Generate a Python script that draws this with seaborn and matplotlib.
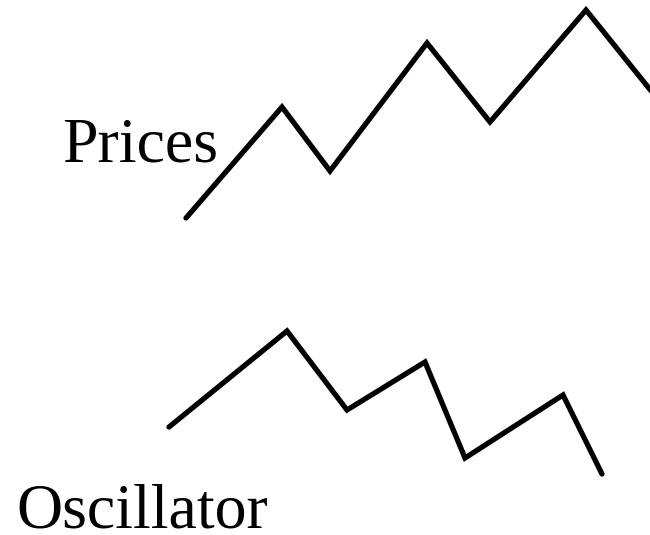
import matplotlib
matplotlib.use("Agg")
import matplotlib.pyplot as plt
import seaborn as sns
import pandas as pd

sns.set_theme(style="white")
plt.rcParams['font.family'] = ['Liberation Serif', 'DejaVu Serif']

W, H = 650, 535

# Prices zigzag (x, height from bottom)
price_x = [186, 282, 330, 427, 490, 586, 652]
price_y = [317, 428, 364, 492, 413, 525, 443]

# Oscillator zigzag
osc_x = [169, 287, 347, 425, 465, 563, 602]
osc_y = [108, 204, 125, 173, 77, 140, 61]

labels = ["Prices", "Oscillator"]

fig = plt.figure(figsize=(6.5, 5.35), dpi=100)
ax = fig.add_axes([0, 0, 1, 1])

df_p = pd.DataFrame({"x": price_x, "y": price_y})
df_o = pd.DataFrame({"x": osc_x, "y": osc_y})
sns.lineplot(data=df_p, x="x", y="y", ax=ax, color="black", lw=3.8, sort=False,
             solid_joinstyle="miter", solid_capstyle="round")
sns.lineplot(data=df_o, x="x", y="y", ax=ax, color="black", lw=3.8, sort=False,
             solid_joinstyle="miter", solid_capstyle="round")

ax.text(62, 373, labels[0], fontsize=46, ha="left", va="baseline", color="black")
ax.text(16, 8, labels[1], fontsize=46, ha="left", va="baseline", color="black")

ax.set_xlim(0, W)
ax.set_ylim(0, H)
ax.set_axis_off()
fig.savefig("out.png", dpi=100)
